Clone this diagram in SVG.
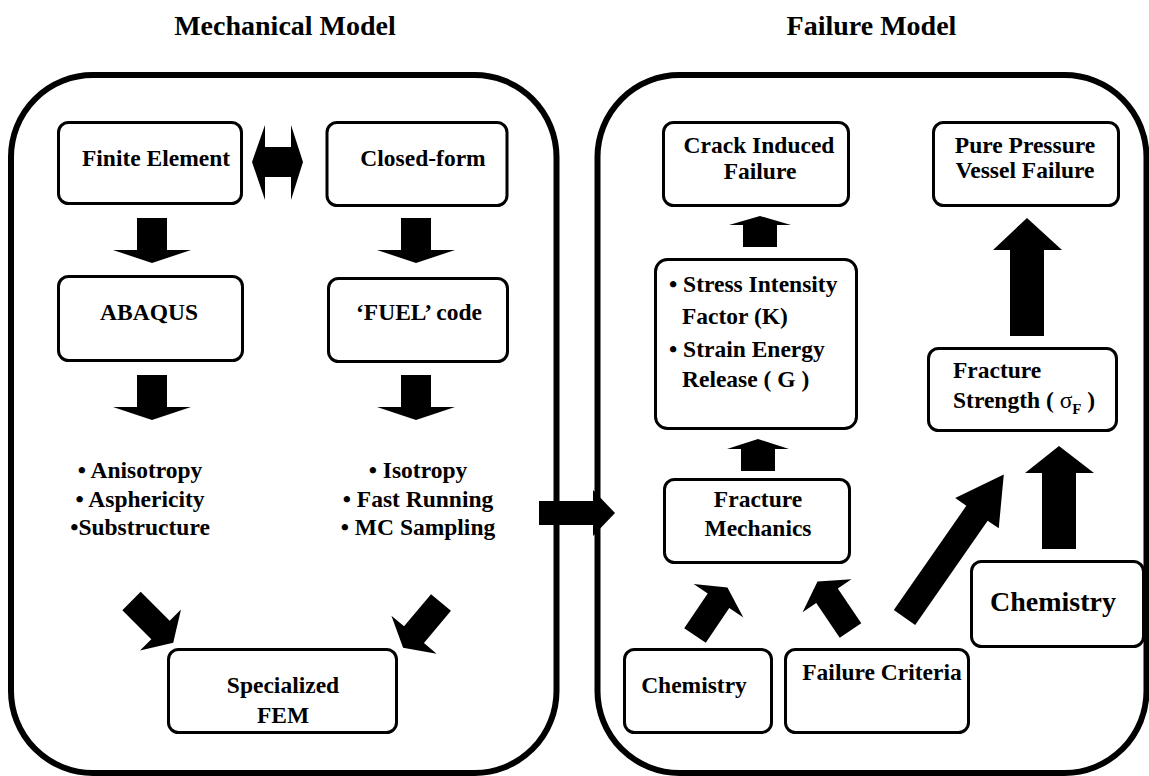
<svg xmlns="http://www.w3.org/2000/svg" width="1149" height="776" viewBox="0 0 1149 776">
<style>
text{font-family:"Liberation Serif","Times New Roman",serif;font-weight:bold;font-size:23.5px;fill:#000}
.title{font-size:28px}
.big{font-size:28px}
.c{text-anchor:middle}
.panel{fill:none;stroke:#000;stroke-width:6}
.box{fill:#fff;stroke:#000;stroke-width:3}
.arr{fill:#000;stroke:none}
</style>
<rect width="1149" height="776" fill="#fff"/>
<text class="title c" x="285" y="35">Mechanical Model</text>
<text class="title c" x="871.5" y="35">Failure Model</text>
<g id="panel-mechanical"><rect class="panel" x="11" y="75" width="545.5" height="698" rx="82" ry="82"/></g>
<g id="panel-failure"><rect class="panel" x="597.5" y="75" width="549" height="698" rx="82" ry="82"/></g>
<g id="connectors">
<polygon class="arr" points="252,162 265,125 265,147 291,147 291,125 303,162 291,200 291,177 265,177 265,200"/>
<polygon class="arr" points="137,218 167,218 167,250 191,250 152,263 113,250 137,250"/>
<polygon class="arr" points="401,218 431,218 431,250 455,250 416,263 377,250 401,250"/>
<polygon class="arr" points="137,375 167,375 167,407 191,407 152,420 113,407 137,407"/>
<polygon class="arr" points="401,375 431,375 431,407 455,407 416,420 377,407 401,407"/>
<polygon class="arr" transform="translate(131.5,601) rotate(45)" points="0,-13 41,-13 41,-29 59,0 41,29 41,13 0,13"/>
<polygon class="arr" transform="translate(441,602.5) rotate(130)" points="0,-13 42,-13 42,-29.5 59,0 42,29.5 42,13 0,13"/>
<polygon class="arr" points="539,501 593,501 593,490 615,513 593,536 593,525 539,525"/>
<polygon class="arr" points="743,247 777,247 777,225 791,225 760,216 729,225 743,225"/>
<polygon class="arr" points="741,471 775,471 775,449 789,449 758,439 727,449 741,449"/>
<polygon class="arr" points="1010,336 1044,336 1044,250 1062,250 1027,218 993,250 1010,250"/>
<polygon class="arr" points="1042,549 1076,549 1076,473 1094,473 1059,446 1025,473 1042,473"/>
<polygon class="arr" transform="translate(695,635.5) rotate(-56)" points="0,-13 42,-13 42,-30 58,0 42,30 42,13 0,13"/>
<polygon class="arr" transform="translate(850.5,630.5) rotate(-124)" points="0,-13 42,-13 42,-29.5 59,0 42,29.5 42,13 0,13"/>
<polygon class="arr" transform="translate(904.5,617.5) rotate(-55.2)" points="0,-13 127,-13 127,-26.5 174,0 127,26.5 127,13 0,13"/>
</g>
<g id="finite-element"><rect class="box" x="58.5" y="122.5" width="183" height="81" rx="10"/><text class="c" x="156" y="166">Finite Element</text></g>
<g id="closed-form"><rect class="box" x="327" y="122.5" width="180" height="83" rx="10"/><text class="c" x="423" y="166">Closed-form</text></g>
<g id="abaqus"><rect class="box" x="58.5" y="276.5" width="184" height="84" rx="10"/><text class="c" x="149" y="320">ABAQUS</text></g>
<g id="fuel-code"><rect class="box" x="328.5" y="278.5" width="179" height="83" rx="10"/><text class="c" x="419" y="320">‘FUEL’ code</text></g>
<g id="fe-features"><text class="c" x="140" y="478">• Anisotropy</text><text class="c" x="140" y="507">• Asphericity</text><text class="c" x="140" y="535">•Substructure</text></g>
<g id="cf-features"><text class="c" x="418" y="478">• Isotropy</text><text class="c" x="418" y="507">• Fast Running</text><text class="c" x="418" y="535">• MC Sampling</text></g>
<g id="specialized-fem"><rect class="box" x="168.5" y="649.5" width="228" height="83" rx="10"/><text class="c" x="283" y="693">Specialized</text><text class="c" x="283" y="723">FEM</text></g>
<g id="crack-induced-failure"><rect class="box" x="663.5" y="122.5" width="185" height="83" rx="10"/><text class="c" x="759" y="153">Crack Induced</text><text class="c" x="760" y="179">Failure</text></g>
<g id="pure-pressure-vessel-failure"><rect class="box" x="933.5" y="122.5" width="185" height="83" rx="10"/><text class="c" x="1025" y="153">Pure Pressure</text><text class="c" x="1025" y="178">Vessel Failure</text></g>
<g id="stress-intensity"><rect class="box" x="655.5" y="259.5" width="201" height="169" rx="12"/><text x="669" y="292">• Stress Intensity</text><text x="682" y="324">Factor (K)</text><text x="669" y="357">• Strain Energy</text><text x="682" y="387">Release ( G )</text></g>
<g id="fracture-strength"><rect class="box" x="928.5" y="348.5" width="188" height="82" rx="10"/><text x="953" y="378">Fracture</text><text x="953" y="408">Strength ( <tspan font-weight="normal">σ</tspan><tspan font-size="15" dy="6">F</tspan><tspan dy="-6"> )</tspan></text></g>
<g id="fracture-mechanics"><rect class="box" x="664.5" y="479.5" width="185" height="83" rx="10"/><text class="c" x="758" y="507">Fracture</text><text class="c" x="758" y="536">Mechanics</text></g>
<g id="chemistry-small"><rect class="box" x="624.5" y="649.5" width="147" height="83" rx="10"/><text class="c" x="694" y="693">Chemistry</text></g>
<g id="failure-criteria"><rect class="box" x="785.5" y="649.5" width="183" height="83" rx="10"/><text class="c" x="882" y="680">Failure Criteria</text></g>
<g id="chemistry-big"><rect class="box" x="971.5" y="561.5" width="172" height="85" rx="10"/><text class="big c" x="1053" y="611">Chemistry</text></g>
</svg>
